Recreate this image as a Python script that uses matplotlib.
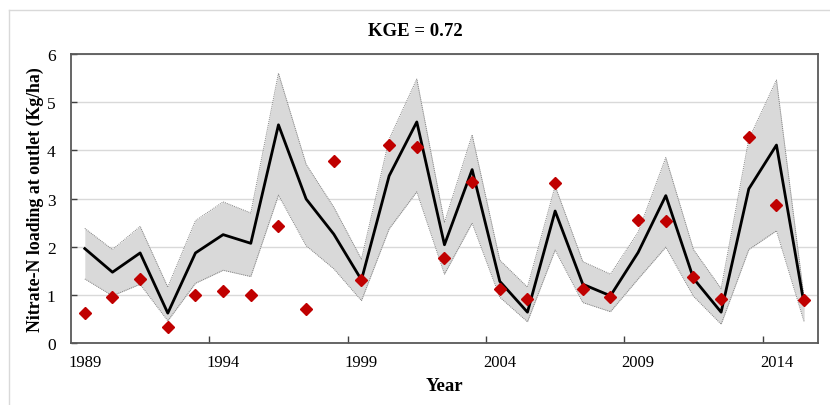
import numpy as np
import matplotlib.pyplot as plt
from matplotlib.lines import Line2D

years = np.arange(1989, 2016)

# simulated median and 95% uncertainty band (Kg/ha)
sim_median = [1.96, 1.47, 1.87, 0.62, 1.87, 2.25, 2.07, 4.53, 2.99, 2.26,
              1.31, 3.47, 4.59, 2.04, 3.60, 1.28, 0.64, 2.74, 1.22, 0.98,
              1.88, 3.06, 1.34, 0.64, 3.20, 4.11, 0.80]
sim_upper = [2.38, 1.94, 2.42, 1.16, 2.54, 2.93, 2.70, 5.60, 3.71, 2.82,
             1.74, 4.23, 5.48, 2.50, 4.32, 1.72, 1.16, 3.26, 1.69, 1.43,
             2.30, 3.85, 1.94, 1.13, 4.23, 5.46, 0.92]
sim_lower = [1.33, 0.98, 1.22, 0.46, 1.24, 1.51, 1.38, 3.07, 2.02, 1.54,
             0.88, 2.37, 3.14, 1.43, 2.49, 0.95, 0.44, 1.93, 0.84, 0.65,
             1.33, 1.99, 0.97, 0.39, 1.94, 2.33, 0.44]

# observed loads
observed = [0.62, 0.95, 1.33, 0.33, 0.99, 1.07, 1.00, 2.43, 0.71, 3.77,
            1.31, 4.11, 4.06, 1.76, 3.35, 1.12, 0.91, 3.32, 1.13, 0.96,
            2.55, 2.54, 1.36, 0.91, 4.28, 2.86, 0.89]

label_years = [1989, 1994, 1999, 2004, 2009, 2014]

plt.rcParams['font.family'] = ['Liberation Serif', 'DejaVu Serif']

f = plt.figure(figsize=(8.3, 4.06), dpi=100)
ax = f.add_axes([0.0855, 0.1527, 0.9, 0.7118])

# uncertainty band with dotted edges
ax.fill_between(years, sim_lower, sim_upper, color='#d9d9d9', lw=0, zorder=2)
ax.plot(years, sim_upper, color='#808080', lw=0.7, ls=(0, (1, 1)), zorder=3)
ax.plot(years, sim_lower, color='#808080', lw=0.7, ls=(0, (1, 1)), zorder=3)
ax.plot(years, sim_median, color='black', lw=2.0, zorder=4)
ax.plot(years, observed, ls='none', marker='D', ms=6, color='#c00000',
        mec='#c00000', zorder=5)

ax.set_xlim(1988.5, 2015.5)
ax.set_ylim(0, 6)

# tick marks between categories, labels under the data points
ax.set_xticks(np.arange(1993.5, 2015, 5))
ax.set_xticklabels([])
ax.set_xticks(label_years, minor=True)
ax.set_xticklabels([str(y) for y in label_years], minor=True, fontsize=12)
ax.tick_params(axis='x', which='major', direction='in', length=5,
               width=1, color='#404040')
ax.tick_params(axis='x', which='minor', length=0, pad=8)

ax.set_yticks(range(0, 7))
ax.tick_params(axis='y', direction='in', length=4, width=1,
               color='#404040', labelsize=12.5, pad=11)

ax.grid(axis='y', color='#d9d9d9', lw=1, zorder=0)
ax.set_axisbelow(True)
for s in ax.spines.values():
    s.set_color('#595959')
    s.set_linewidth(1.3)

ax.set_xlabel('Year', fontsize=13.5, fontweight='bold', labelpad=5)
ax.set_ylabel('Nitrate-N loading at outlet (Kg/ha)', fontsize=12.8,
              fontweight='bold', labelpad=2)
f.text(0.5, 1 - 32/406, 'KGE = 0.72', fontsize=13.5, fontweight='bold',
       ha='center', va='center')

# chart area frame
f.add_artist(Line2D([9/830, 9/830], [0, 1 - 11/406], color='#d9d9d9', lw=1,
                    transform=f.transFigure))
f.add_artist(Line2D([9/830, 1], [1 - 11/406, 1 - 11/406], color='#d9d9d9',
                    lw=1, transform=f.transFigure))

f.savefig('out.png', dpi=100)
